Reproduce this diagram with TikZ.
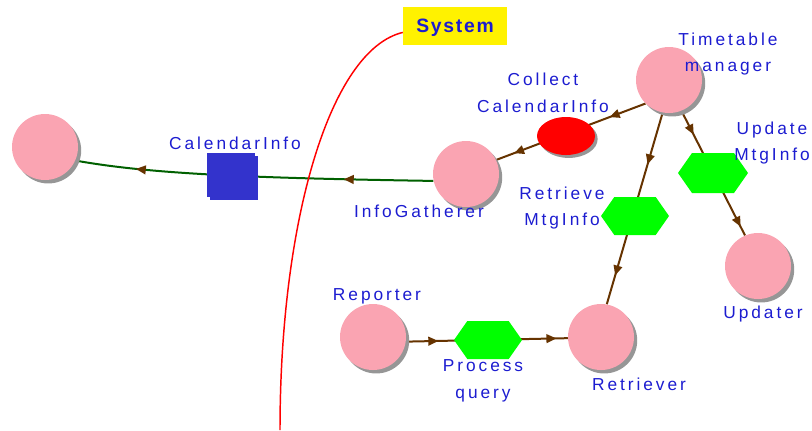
\documentclass[tikz,border=0pt]{standalone}
\usepackage{fontspec}
\setmainfont{Liberation Sans}
\newfontfamily\lblfont[LetterSpace=17]{Liberation Sans}
\newfontfamily\sysfont[LetterSpace=9]{Liberation Sans}
\usetikzlibrary{shapes.geometric,shapes.symbols,shadows,decorations.markings,backgrounds,arrows.meta}

\definecolor{rolepink}{RGB}{250,164,178}
\definecolor{lblblue}{RGB}{28,28,208}
\definecolor{flowbrown}{RGB}{102,51,0}
\definecolor{infoblue}{RGB}{51,51,204}
\definecolor{linkgreen}{RGB}{0,96,0}
\definecolor{hexgreen}{RGB}{0,255,0}
\definecolor{shadowgray}{RGB}{150,150,150}

\tikzset{
  role/.style={circle, fill=rolepink, minimum size=49.5pt, inner sep=0pt,
    drop shadow={shadow xshift=2.4pt, shadow yshift=-2.6pt, fill=shadowgray, opacity=1}},
  collect/.style={ellipse, fill=red, minimum width=43.5pt, minimum height=28.5pt, inner sep=0pt,
    drop shadow={shadow xshift=2pt, shadow yshift=-2.2pt, fill=shadowgray, opacity=1}},
  goal/.style={shape=signal, signal to=west and east, signal pointer angle=110,
    fill=hexgreen, minimum width=51pt, minimum height=28.5pt, inner sep=0pt},
  infobox/.style={rectangle, fill=infoblue, minimum width=36pt, minimum height=33pt, inner sep=0pt,
    drop shadow={shadow xshift=2pt, shadow yshift=-2pt, fill=infoblue, opacity=1}},
  sysbox/.style={rectangle, fill=yellow, minimum width=78pt, minimum height=29pt, inner sep=0pt,
    text depth=0pt, text=lblblue, font=\sysfont\bfseries\fontsize{14.5}{16}\selectfont},
  lbl/.style={text=lblblue, font=\lblfont\fontsize{13}{20}\selectfont, align=center, inner sep=0pt},
  flow/.style={draw=flowbrown, line width=1.5pt},
  link/.style={draw=linkgreen, line width=1.5pt},
  twoarrows/.style 2 args={postaction={decorate}, decoration={markings,
    mark=at position #1 with {\arrow{Triangle[length=7.5pt, width=6.5pt, color=flowbrown]}},
    mark=at position #2 with {\arrow{Triangle[length=7.5pt, width=6.5pt, color=flowbrown]}}}},
}

\begin{document}
\begin{tikzpicture}[x=0.75pt, y=-0.75pt]
  \useasboundingbox (0,0) rectangle (812,430);

  % roles
  \node[role] (ext) at (45,147) {};
  \node[role] (ig)  at (466,174) {};
  \node[role] (tm)  at (669,80) {};
  \node[role] (upd) at (758,266) {};
  \node[role] (ret) at (601,337) {};
  \node[role] (rep) at (373,337) {};

  % goals, resources and the information item
  \node[collect] (col) at (566,136) {};
  \node[goal] (rmi) at (635,216) {};
  \node[goal, minimum width=52.5pt, minimum height=30pt] (umi) at (713,173) {};
  \node[goal] (pq) at (488,340) {};
  \node[infobox] (cal) at (231,175) {};

  % system boundary label
  \node[sysbox] (sys) at (455,26) {System};
  \coordinate (sysend) at (280,430);

  % labels
  \node[lbl] at (235,143) {CalendarInfo};
  \node[lbl] at (419,211) {InfoGatherer};
  \node[lbl] at (543,93) {Collect\\CalendarInfo};
  \node[lbl] at (728,54) {Timetable\\manager};
  \node[lbl] at (772,143) {Update\\MtgInfo};
  \node[lbl] at (562,208) {Retrieve\\MtgInfo};
  \node[lbl] at (763,314) {Updater};
  \node[lbl] at (377,296) {Reporter};
  \node[lbl] at (483,381) {Process\\query};
  \node[lbl] at (639,384) {Retriever};

  % connectors, drawn beneath the shapes
  \begin{pgfonlayer}{background}
    \draw[flow, twoarrows={0.24}{0.88}] (tm.225) -- (ig.25);
    \draw[flow, twoarrows={0.19}{0.93}] (tm.292) -- (upd.113);
    \draw[flow, twoarrows={0.27}{0.85}] (tm.259) -- (ret.80);
    \draw[flow, twoarrows={0.20}{0.93}] (rep.-8) -- (ret.182);
    \draw[link, twoarrows={0.25}{0.83}] (ig.192) .. controls (250,178) and (150,174) .. (ext.-24);
    \draw[red, line width=1.1pt] (sys.187) .. controls (330,50) and (280,220) .. (sysend);
  \end{pgfonlayer}
\end{tikzpicture}
\end{document}
